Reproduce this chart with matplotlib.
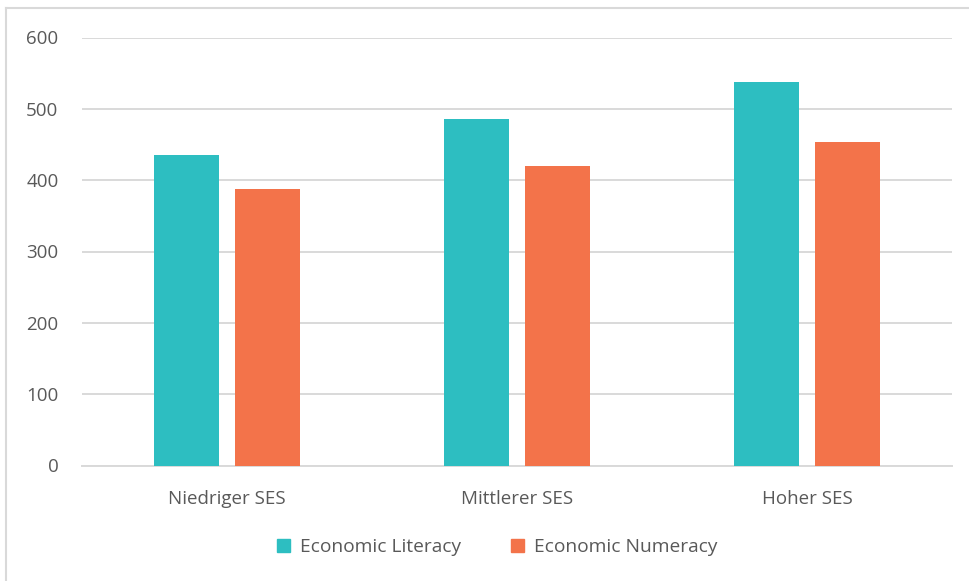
import matplotlib
matplotlib.use('Agg')
from matplotlib import pyplot as plt
from matplotlib.lines import Line2D
import numpy as np

plt.rcParams['font.family'] = ['Open Sans', 'DejaVu Sans']

# data
categories = ['Niedriger SES', 'Mittlerer SES', 'Hoher SES']
literacy = [435, 486, 537]
numeracy = [387, 420, 453]
series_names = ['Economic Literacy', 'Economic Numeracy']
colors = ['#2DBEC1', '#F3734A']
yticks = [0, 100, 200, 300, 400, 500, 600]

W, H = 970, 581
fig = plt.figure(figsize=(W/100, H/100), dpi=100)
# axes area in pixels: x 82..952, y 37.5..465.5
ax = fig.add_axes([82/W, 1 - 465.5/H, (952-82)/W, (465.5-37.5)/H])

x = np.arange(len(categories))
bw = 0.224
off = 0.14
ax.bar(x - off, literacy, bw, color=colors[0], label=series_names[0], zorder=3)
ax.bar(x + off, numeracy, bw, color=colors[1], label=series_names[1], zorder=3)

ax.set_xlim(-0.5, len(categories) - 0.5)
ax.set_ylim(0, 600)
ax.set_yticks(yticks)
ax.set_xticks(x)
ax.set_xticklabels(categories)
ax.grid(axis='y', color='#D9D9D9', linewidth=1.4, zorder=0)
for s in ['top', 'right', 'left']:
    ax.spines[s].set_visible(False)
ax.spines['bottom'].set_color('#D9D9D9')
ax.spines['bottom'].set_linewidth(1.4)
ax.tick_params(axis='both', length=0, labelsize=13.5, colors='#595959')
ax.tick_params(axis='y', pad=17)
ax.tick_params(axis='x', pad=18)

handles = [plt.Rectangle((0, 0), 1, 1, color=c) for c in colors]
fig.legend(handles, series_names, loc='center', bbox_to_anchor=(497/W, 1 - 547/H),
           ncol=2, frameon=False, fontsize=13.8, labelcolor='#595959',
           handlelength=0.7, handleheight=0.7, handletextpad=0.5, columnspacing=2.6)

# chart frame (continues past right and bottom edges)
fig.add_artist(Line2D([6.5/W, 6.5/W], [0, 1 - 8/H], color='#D9D9D9', lw=1.5, transform=fig.transFigure))
fig.add_artist(Line2D([6.5/W, 1], [1 - 8/H, 1 - 8/H], color='#D9D9D9', lw=1.5, transform=fig.transFigure))

fig.savefig('out.png', dpi=100)
